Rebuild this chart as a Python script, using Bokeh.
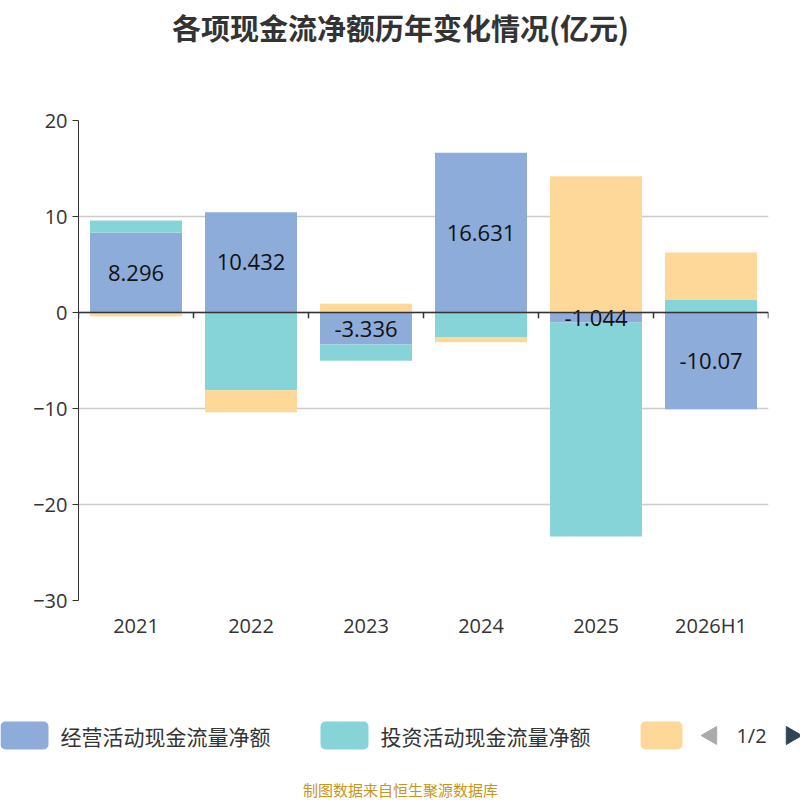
from bokeh.plotting import figure
from bokeh.layouts import column
from bokeh.models import Range1d, FactorRange, Span, Label, FixedTicker
from bokeh.core.properties import value
from bokeh.embed import file_html
from bokeh.resources import INLINE

years = ["2021", "2022", "2023", "2024", "2025", "2026H1"]
operating = [8.296, 10.432, -3.336, 16.631, -1.044, -10.07]
investing = [1.3, -8.1, -1.7, -2.6, -22.3, 1.35]
financing = [-0.4, -2.3, 0.9, -0.5, 14.2, 4.9]
series_names = ["经营活动现金流量净额", "投资活动现金流量净额", "筹资活动现金流量净额"]
colors = ["#8eacd9", "#87d4d8", "#fed899"]
y_ticks = [20, 10, 0, -10, -20, -30]
FONT = "Open Sans"

W = 800
head = figure(width=W, height=108, x_range=Range1d(0, W), y_range=Range1d(108, 0),
              output_backend="svg", toolbar_location=None, min_border=0, outline_line_color=None)
head.frame_align = False
head.axis.visible = False; head.grid.visible = False
head.text(x=[400], y=[26], text=["各项现金流净额历年变化情况(亿元)"], text_align="center",
          text_baseline="middle", text_font=value("Noto Sans CJK SC"), text_font_style="bold",
          text_font_size="29px", text_color="#333333")

p = figure(width=W, height=540, x_range=FactorRange(*years), y_range=Range1d(-30, 20),
           output_backend="svg", toolbar_location=None, min_border_left=78, min_border_right=32,
           min_border_top=12, min_border_bottom=48, outline_line_color=None)
p.frame_align = False
pos = [0.0] * len(years); neg = [0.0] * len(years)
for vals, c in zip([operating, investing, financing], colors):
    b, t = [], []
    for i, v in enumerate(vals):
        if v >= 0:
            b.append(pos[i]); t.append(pos[i] + v); pos[i] += v
        else:
            b.append(neg[i]); t.append(neg[i] + v); neg[i] += v
    p.vbar(x=years, bottom=b, top=t, width=0.8, color=c, line_color=None)
p.text(x=years, y=[v / 2 for v in operating], text=[f"{v:g}" for v in operating],
       text_align="center", text_baseline="middle", text_font=value(FONT),
       text_font_size="22px", text_color="#111111")
p.add_layout(Span(location=0, dimension="width", line_color="#333333", line_width=1.5))
xs = [(y, -0.5) for y in years] + [(years[-1], 0.5)]
p.segment(x0=xs, x1=xs, y0=[0] * len(xs), y1=[-0.6] * len(xs), line_color="#333333", line_width=1.5)
p.yaxis.ticker = FixedTicker(ticks=y_ticks)
p.yaxis.major_label_text_font_size = "20px"
p.yaxis.major_label_text_color = "#333333"
p.yaxis.major_label_text_font = FONT
p.yaxis.axis_line_color = "#333333"
p.yaxis.major_tick_line_color = "#333333"
p.yaxis.major_tick_out = 6; p.yaxis.major_tick_in = 0
p.yaxis.minor_tick_line_color = None
p.xaxis.axis_line_color = None
p.xaxis.major_tick_line_color = None
p.xaxis.major_label_text_font_size = "20px"
p.xaxis.major_label_text_color = "#333333"
p.xaxis.major_label_text_font = FONT
p.xgrid.visible = False
p.ygrid.grid_line_color = "#cccccc"
p.ygrid.grid_line_width = 1.5
p.add_layout(Label(x=-62, y=455, x_units="screen", y_units="screen", text="(亿元)", angle=1.5708,
                   text_color="red", text_font_size="14px", text_font="Noto Sans CJK SC",
                   text_align="center", text_baseline="middle"))

foot = figure(width=W, height=152, x_range=Range1d(0, W), y_range=Range1d(152, 0),
              output_backend="svg", toolbar_location=None, min_border=0, outline_line_color=None)
foot.frame_align = False
foot.axis.visible = False; foot.grid.visible = False
foot.rect(x=[24, 344, 661], y=[87] * 3, width=[48, 48, 42], height=28, color=colors,
          line_color=None, border_radius=5)
foot.text(x=[60, 380], y=[87, 87], text=series_names[:2], text_baseline="middle",
          text_font=value("Noto Sans CJK SC"), text_font_size="21px", text_color="#333333")
foot.scatter(x=[711], y=[87], marker="triangle", angle=1.5708, size=18, color="#aaaaaa")
foot.scatter(x=[791], y=[87], marker="triangle", angle=-1.5708, size=18, color="#2f4554")
foot.text(x=[751], y=[87], text=["1/2"], text_align="center", text_baseline="middle",
          text_font=value(FONT), text_font_size="20px", text_color="#333333")
foot.text(x=[400], y=[141], text=["制图数据来自恒生聚源数据库"], text_align="center",
          text_baseline="middle", text_font=value("Noto Sans CJK SC"), text_font_size="15px",
          text_color="#c8961e")

layout = column(head, p, foot, spacing=0)
open("out.html", "w").write(file_html(layout, INLINE))
